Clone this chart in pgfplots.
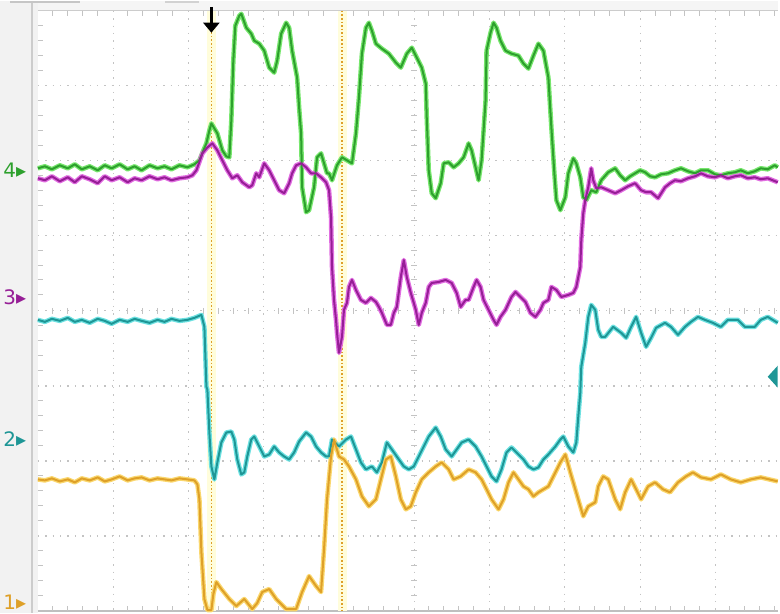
\documentclass[border=0pt]{standalone}
\usepackage{pgfplots}
\pgfplotsset{compat=1.18}
\usepackage{fontspec}
\setmainfont{DejaVu Sans}
\usetikzlibrary{arrows.meta}
\definecolor{gcore}{RGB}{45,160,45}
\definecolor{ghalo}{RGB}{120,230,110}
\definecolor{mcore}{RGB}{150,30,150}
\definecolor{mhalo}{RGB}{225,110,225}
\definecolor{ccore}{RGB}{30,150,150}
\definecolor{chalo}{RGB}{110,225,225}
\definecolor{ocore}{RGB}{222,160,40}
\definecolor{ohalo}{RGB}{250,215,110}
\definecolor{gridc}{RGB}{195,195,195}
\begin{document}
\begin{tikzpicture}
\begin{axis}[scale only axis, width=390pt, height=307pt,
  xmin=0, xmax=780, ymin=0, ymax=614, y dir=reverse,
  axis line style={draw=none}, xtick=\empty, ytick=\empty, clip=false]
% background strips
\fill[gray!10] (0,0) rectangle (38,614);
\fill[gray!8] (38,0) rectangle (780,10);
\draw[gray!40, line width=0.8pt] (32,0) -- (32,614);
\draw[gray!40] (38,10) -- (780,10);
\draw[gray!50, line width=0.8pt] (38,612) -- (780,612);
\fill[gray!45] (10,0) rectangle (80,2.5);
\fill[gray!35] (165,0) rectangle (200,2.5);
% grid
\pgfplotsinvokeforeach{113.5,189,264.5,340,415.5,491,566.5,642,717.5}{
  \draw[gridc, dash pattern=on 0.7pt off 3pt, line width=0.6pt] (#1,10) -- (#1,612);}
\pgfplotsinvokeforeach{85.25,160.5,235.75,311,386.25,461.5,536.75}{
  \draw[gridc, dash pattern=on 0.7pt off 3pt, line width=0.6pt] (38,#1) -- (780,#1);}
% ruler ticks
\pgfplotsinvokeforeach{53,68,83,98,128,143,158,173,204,219,234,249,279,294,309,324,355,370,385,400,430,445,460,475,506,521,536,551,581,596,611,626,657,672,687,702,732,747,762,777}{
  \draw[gridc, line width=0.5pt] (#1,10) -- (#1,15);
  \draw[gridc, line width=0.5pt] (#1,612) -- (#1,607);
  \draw[gridc, line width=0.5pt] (#1,308) -- (#1,314);}
\pgfplotsinvokeforeach{25,40,55,70,100,115,130,145,175,190,205,220,250,265,280,295,326,341,356,371,401,416,431,446,476,491,506,521,551,566,581,596}{
  \draw[gridc, line width=0.5pt] (412.5,#1) -- (418.5,#1);
  \draw[gridc, line width=0.5pt] (38,#1) -- (43,#1);}
% cursors
\fill[yellow!14] (208,10) rectangle (217,612);
\fill[yellow!14] (339,10) rectangle (348,612);
\draw[ocore, dash pattern=on 0.8pt off 1pt, line width=0.6pt] (212,10) -- (212,612);
\draw[ocore, dash pattern=on 0.8pt off 1pt, line width=0.6pt] (343,10) -- (343,612);
% green ch4
\addplot[ghalo, line width=2.3pt, line join=round] coordinates {(38,168)(45,166)(52,169)(60,165)(68,168)(75,164)(82,169)(90,166)(98,170)(105,165)(112,168)(120,164)(128,169)(135,166)(142,170)(150,165)(158,168)(165,166)(172,169)(180,165)(188,167)(195,164)(200,160)(204,150)(207,143)(210,130)(212,123)(215,128)(218,133)(223,150)(227,156)(230,157)(232,120)(234,60)(236,25)(240,15)(242,13)(247,27)(252,33)(255,40)(260,43)(265,50)(270,67)(275,72)(278,60)(282,33)(287,22)(290,27)(293,50)(298,77)(300,107)(302,133)(303,187)(307,212)(310,210)(315,187)(318,157)(322,153)(325,163)(328,173)(330,173)(333,180)(338,165)(343,157)(348,160)(353,163)(357,133)(360,97)(363,53)(367,27)(370,22)(373,30)(377,43)(383,48)(390,53)(397,62)(402,67)(408,53)(413,47)(418,57)(423,67)(427,83)(428,117)(430,170)(433,193)(437,198)(442,183)(445,163)(450,162)(455,167)(460,163)(465,157)(470,143)(473,150)(477,167)(480,180)(483,160)(487,100)(488,50)(492,32)(495,22)(498,27)(502,40)(507,50)(513,53)(520,55)(525,63)(530,68)(535,55)(540,43)(545,50)(550,77)(553,127)(556,173)(558,200)(562,210)(567,197)(570,173)(575,158)(578,163)(582,177)(585,197)(588,200)(593,190)(598,192)(603,180)(610,172)(617,168)(622,175)(627,180)(632,176)(637,173)(642,170)(647,172)(652,176)(657,177)(663,174)(670,173)(677,170)(683,168)(690,171)(697,173)(703,170)(710,170)(717,174)(723,175)(730,173)(737,172)(743,170)(750,173)(757,171)(763,168)(770,169)(777,165)(780,167)};
% magenta ch3
\addplot[mhalo, line width=2.3pt, line join=round] coordinates {(38,178)(45,180)(52,176)(60,181)(68,177)(75,182)(82,176)(90,179)(98,183)(105,176)(112,180)(120,177)(128,182)(135,178)(142,180)(150,176)(158,179)(165,177)(172,180)(180,178)(188,177)(193,175)(197,170)(203,153)(208,147)(213,143)(218,150)(223,160)(228,170)(233,178)(238,175)(243,182)(250,187)(253,185)(257,173)(260,177)(265,163)(270,170)(275,180)(280,190)(285,193)(290,183)(293,173)(297,165)(302,163)(307,167)(312,173)(317,173)(322,177)(327,182)(330,190)(332,217)(333,267)(335,300)(337,320)(338,333)(340,353)(343,337)(345,310)(348,303)(350,287)(353,280)(357,290)(362,300)(367,303)(372,298)(377,302)(380,307)(383,313)(388,325)(392,325)(395,313)(398,307)(402,277)(405,260)(408,277)(412,293)(415,303)(417,310)(420,325)(423,313)(427,303)(430,287)(433,283)(440,282)(447,280)(453,283)(458,293)(462,307)(467,300)(470,300)(475,287)(478,280)(482,287)(485,300)(490,310)(495,320)(498,325)(502,317)(507,310)(513,297)(517,292)(522,297)(527,302)(532,313)(537,317)(542,310)(545,303)(550,300)(553,287)(558,290)(563,297)(570,295)(575,293)(578,287)(582,267)(583,240)(585,213)(587,200)(590,187)(593,168)(595,180)(598,188)(603,187)(610,190)(617,193)(623,190)(630,186)(637,183)(643,190)(648,192)(653,192)(660,198)(667,187)(672,183)(677,180)(683,181)(690,178)(697,176)(703,173)(710,176)(717,177)(723,175)(730,178)(737,176)(743,175)(750,178)(757,177)(763,179)(770,178)(780,182)};
% cyan ch2
\addplot[chalo, line width=2.3pt, line join=round] coordinates {(38,320)(45,322)(52,319)(60,321)(68,318)(75,322)(82,320)(90,323)(98,319)(105,321)(112,324)(120,320)(128,322)(135,319)(142,321)(150,323)(158,320)(165,322)(172,319)(180,321)(188,320)(195,318)(202,315)(205,327)(207,387)(208,390)(210,433)(212,467)(215,480)(218,463)(222,443)(227,433)(232,432)(235,440)(238,460)(242,475)(245,473)(248,457)(252,440)(255,437)(260,447)(265,457)(270,455)(275,447)(280,453)(285,457)(290,460)(295,453)(300,442)(307,433)(312,437)(317,447)(322,453)(327,457)(330,457)(333,440)(340,447)(347,440)(352,437)(357,450)(362,463)(367,470)(373,467)(378,473)(383,463)(388,443)(393,450)(400,460)(405,467)(410,470)(415,467)(420,457)(425,447)(430,437)(437,428)(442,437)(447,450)(453,457)(458,450)(463,443)(470,440)(477,447)(483,457)(488,467)(493,477)(498,482)(503,470)(508,453)(513,448)(518,453)(525,460)(530,467)(535,470)(540,468)(545,460)(550,455)(557,447)(562,440)(565,437)(570,447)(575,453)(578,443)(580,417)(582,393)(583,367)(587,343)(590,317)(593,305)(597,310)(600,330)(603,337)(607,337)(611,332)(615,327)(623,333)(628,338)(633,327)(638,317)(643,333)(648,347)(653,338)(658,328)(667,323)(673,327)(680,335)(687,327)(693,322)(700,317)(707,320)(715,323)(723,327)(730,320)(740,320)(747,327)(757,327)(763,320)(770,317)(780,323)};
% orange ch1
\addplot[ohalo, line width=2.3pt, line join=round] coordinates {(38,480)(45,481)(52,479)(60,482)(68,480)(75,483)(82,479)(90,481)(98,478)(105,482)(112,480)(120,477)(128,481)(135,479)(142,478)(150,481)(158,479)(165,480)(172,481)(180,479)(188,480)(195,481)(198,485)(200,500)(202,553)(205,600)(208,611)(212,611)(214,595)(217,583)(222,590)(230,600)(237,607)(245,600)(253,610)(258,604)(263,593)(270,590)(277,600)(287,610)(297,610)(303,593)(310,577)(317,587)(322,593)(325,550)(328,500)(332,457)(335,440)(340,457)(345,460)(350,467)(357,480)(363,497)(370,507)(377,500)(382,480)(387,460)(392,457)(397,477)(402,500)(407,510)(412,507)(417,493)(423,480)(430,473)(437,467)(443,463)(450,470)(455,480)(462,477)(470,470)(477,473)(483,480)(488,490)(493,500)(500,510)(505,500)(510,483)(515,473)(520,480)(525,487)(530,490)(535,497)(540,493)(545,490)(550,487)(555,477)(562,463)(567,455)(572,473)(577,490)(582,507)(585,517)(590,507)(597,503)(600,487)(605,477)(610,480)(617,500)(622,510)(627,493)(633,480)(638,490)(643,500)(650,487)(657,483)(665,490)(672,493)(680,483)(688,477)(695,473)(703,478)(713,480)(723,475)(733,480)(743,483)(753,480)(763,478)(780,482)};
% cores
\addplot[gcore, line width=1pt, line join=round] coordinates {(38,168)(45,166)(52,169)(60,165)(68,168)(75,164)(82,169)(90,166)(98,170)(105,165)(112,168)(120,164)(128,169)(135,166)(142,170)(150,165)(158,168)(165,166)(172,169)(180,165)(188,167)(195,164)(200,160)(204,150)(207,143)(210,130)(212,123)(215,128)(218,133)(223,150)(227,156)(230,157)(232,120)(234,60)(236,25)(240,15)(242,13)(247,27)(252,33)(255,40)(260,43)(265,50)(270,67)(275,72)(278,60)(282,33)(287,22)(290,27)(293,50)(298,77)(300,107)(302,133)(303,187)(307,212)(310,210)(315,187)(318,157)(322,153)(325,163)(328,173)(330,173)(333,180)(338,165)(343,157)(348,160)(353,163)(357,133)(360,97)(363,53)(367,27)(370,22)(373,30)(377,43)(383,48)(390,53)(397,62)(402,67)(408,53)(413,47)(418,57)(423,67)(427,83)(428,117)(430,170)(433,193)(437,198)(442,183)(445,163)(450,162)(455,167)(460,163)(465,157)(470,143)(473,150)(477,167)(480,180)(483,160)(487,100)(488,50)(492,32)(495,22)(498,27)(502,40)(507,50)(513,53)(520,55)(525,63)(530,68)(535,55)(540,43)(545,50)(550,77)(553,127)(556,173)(558,200)(562,210)(567,197)(570,173)(575,158)(578,163)(582,177)(585,197)(588,200)(593,190)(598,192)(603,180)(610,172)(617,168)(622,175)(627,180)(632,176)(637,173)(642,170)(647,172)(652,176)(657,177)(663,174)(670,173)(677,170)(683,168)(690,171)(697,173)(703,170)(710,170)(717,174)(723,175)(730,173)(737,172)(743,170)(750,173)(757,171)(763,168)(770,169)(777,165)(780,167)};
\addplot[mcore, line width=1pt, line join=round] coordinates {(38,178)(45,180)(52,176)(60,181)(68,177)(75,182)(82,176)(90,179)(98,183)(105,176)(112,180)(120,177)(128,182)(135,178)(142,180)(150,176)(158,179)(165,177)(172,180)(180,178)(188,177)(193,175)(197,170)(203,153)(208,147)(213,143)(218,150)(223,160)(228,170)(233,178)(238,175)(243,182)(250,187)(253,185)(257,173)(260,177)(265,163)(270,170)(275,180)(280,190)(285,193)(290,183)(293,173)(297,165)(302,163)(307,167)(312,173)(317,173)(322,177)(327,182)(330,190)(332,217)(333,267)(335,300)(337,320)(338,333)(340,353)(343,337)(345,310)(348,303)(350,287)(353,280)(357,290)(362,300)(367,303)(372,298)(377,302)(380,307)(383,313)(388,325)(392,325)(395,313)(398,307)(402,277)(405,260)(408,277)(412,293)(415,303)(417,310)(420,325)(423,313)(427,303)(430,287)(433,283)(440,282)(447,280)(453,283)(458,293)(462,307)(467,300)(470,300)(475,287)(478,280)(482,287)(485,300)(490,310)(495,320)(498,325)(502,317)(507,310)(513,297)(517,292)(522,297)(527,302)(532,313)(537,317)(542,310)(545,303)(550,300)(553,287)(558,290)(563,297)(570,295)(575,293)(578,287)(582,267)(583,240)(585,213)(587,200)(590,187)(593,168)(595,180)(598,188)(603,187)(610,190)(617,193)(623,190)(630,186)(637,183)(643,190)(648,192)(653,192)(660,198)(667,187)(672,183)(677,180)(683,181)(690,178)(697,176)(703,173)(710,176)(717,177)(723,175)(730,178)(737,176)(743,175)(750,178)(757,177)(763,179)(770,178)(780,182)};
\addplot[ccore, line width=1pt, line join=round] coordinates {(38,320)(45,322)(52,319)(60,321)(68,318)(75,322)(82,320)(90,323)(98,319)(105,321)(112,324)(120,320)(128,322)(135,319)(142,321)(150,323)(158,320)(165,322)(172,319)(180,321)(188,320)(195,318)(202,315)(205,327)(207,387)(208,390)(210,433)(212,467)(215,480)(218,463)(222,443)(227,433)(232,432)(235,440)(238,460)(242,475)(245,473)(248,457)(252,440)(255,437)(260,447)(265,457)(270,455)(275,447)(280,453)(285,457)(290,460)(295,453)(300,442)(307,433)(312,437)(317,447)(322,453)(327,457)(330,457)(333,440)(340,447)(347,440)(352,437)(357,450)(362,463)(367,470)(373,467)(378,473)(383,463)(388,443)(393,450)(400,460)(405,467)(410,470)(415,467)(420,457)(425,447)(430,437)(437,428)(442,437)(447,450)(453,457)(458,450)(463,443)(470,440)(477,447)(483,457)(488,467)(493,477)(498,482)(503,470)(508,453)(513,448)(518,453)(525,460)(530,467)(535,470)(540,468)(545,460)(550,455)(557,447)(562,440)(565,437)(570,447)(575,453)(578,443)(580,417)(582,393)(583,367)(587,343)(590,317)(593,305)(597,310)(600,330)(603,337)(607,337)(611,332)(615,327)(623,333)(628,338)(633,327)(638,317)(643,333)(648,347)(653,338)(658,328)(667,323)(673,327)(680,335)(687,327)(693,322)(700,317)(707,320)(715,323)(723,327)(730,320)(740,320)(747,327)(757,327)(763,320)(770,317)(780,323)};
\addplot[ocore, line width=1pt, line join=round] coordinates {(38,480)(45,481)(52,479)(60,482)(68,480)(75,483)(82,479)(90,481)(98,478)(105,482)(112,480)(120,477)(128,481)(135,479)(142,478)(150,481)(158,479)(165,480)(172,481)(180,479)(188,480)(195,481)(198,485)(200,500)(202,553)(205,600)(208,611)(212,611)(214,595)(217,583)(222,590)(230,600)(237,607)(245,600)(253,610)(258,604)(263,593)(270,590)(277,600)(287,610)(297,610)(303,593)(310,577)(317,587)(322,593)(325,550)(328,500)(332,457)(335,440)(340,457)(345,460)(350,467)(357,480)(363,497)(370,507)(377,500)(382,480)(387,460)(392,457)(397,477)(402,500)(407,510)(412,507)(417,493)(423,480)(430,473)(437,467)(443,463)(450,470)(455,480)(462,477)(470,470)(477,473)(483,480)(488,490)(493,500)(500,510)(505,500)(510,483)(515,473)(520,480)(525,487)(530,490)(535,497)(540,493)(545,490)(550,487)(555,477)(562,463)(567,455)(572,473)(577,490)(582,507)(585,517)(590,507)(597,503)(600,487)(605,477)(610,480)(617,500)(622,510)(627,493)(633,480)(638,490)(643,500)(650,487)(657,483)(665,490)(672,493)(680,483)(688,477)(695,473)(703,478)(713,480)(723,475)(733,480)(743,483)(753,480)(763,478)(780,482)};
% channel markers
\node[text=gcore, font=\fontsize{10}{11}\selectfont, anchor=west, inner sep=0pt] at (3,170) {4▸};
\node[text=mcore, font=\fontsize{10}{11}\selectfont, anchor=west, inner sep=0pt] at (3,297) {3▸};
\node[text=ccore, font=\fontsize{10}{11}\selectfont, anchor=west, inner sep=0pt] at (3,440) {2▸};
\node[text=ocore, font=\fontsize{10}{11}\selectfont, anchor=west, inner sep=0pt] at (3,603) {1▸};
% trigger markers
\draw[-{Triangle[width=8pt,length=5pt]}, line width=1.2pt, black] (212,6) -- (212,32);
\fill[ccore] (780,366) -- (770,377) -- (780,388) -- cycle;
\end{axis}
\end{tikzpicture}
\end{document}
